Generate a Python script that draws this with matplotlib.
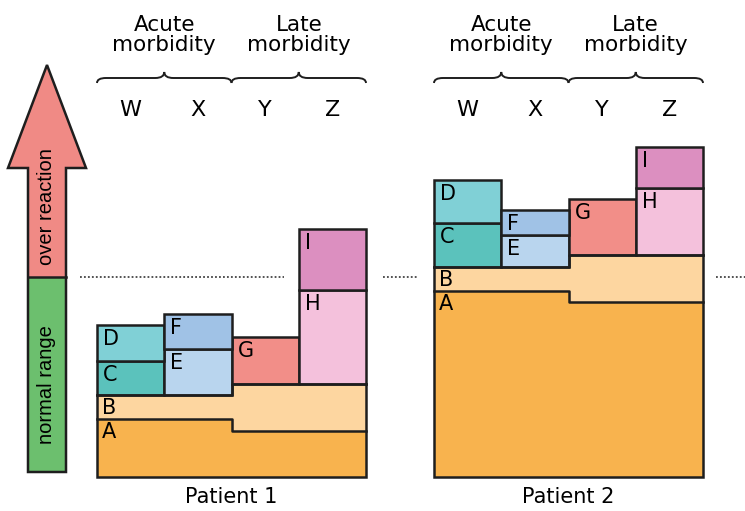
import matplotlib
matplotlib.use("Agg")
import matplotlib.pyplot as plt
from matplotlib.path import Path
from matplotlib.patches import PathPatch, Polygon, Rectangle

# ---------------- data (heights in drawing units, baseline = 0) ----------------
patients = ["Patient 1", "Patient 2"]
columns = ["W", "X", "Y", "Z"]
group_labels = ["Acute\nmorbidity", "Late\nmorbidity"]
threshold = 200

p1_A = [58, 58, 46, 46]
p1_B = [24, 24, 47, 47]
p1_lower = [34, 46, 47, 94]          # C, E, G, H
p1_upper = [36, 35, 0, 61]           # D, F, -, I

p2_A = [186, 186, 175, 175]
p2_B = [24, 24, 47, 47]
p2_lower = [44, 32, 56, 67]
p2_upper = [43, 25, 0, 41]

lower_names = ["C", "E", "G", "H"]
upper_names = ["D", "F", "", "I"]

arrow_labels = ["over reaction", "normal range"]

# ---------------- style ----------------
col_A = "#F8B34E"
col_B = "#FDD6A0"
lower_cols = ["#5BC2BC", "#B9D5EE", "#F28E88", "#F4C1DC"]
upper_cols = ["#80D0D6", "#A0C2E6", "#F28E88", "#DC8FC0"]
edge = "#1e1e1e"
lw = 1.8
FONT = "DejaVu Sans"

fig = plt.figure(figsize=(7.45, 5.11), dpi=100)
ax = fig.add_axes([0, 0, 1, 1])
ax.set_xlim(0, 745)
ax.set_ylim(-34, 477)
ax.axis("off")

colw = 67.25
origins = [97, 434]
A_list = [p1_A, p2_A]
B_list = [p1_B, p2_B]
low_list = [p1_lower, p2_lower]
up_list = [p1_upper, p2_upper]


def brace(xa, xb, y_end=394, y_flat=399, y_tip=405, r=9):
    xm = (xa + xb) / 2
    verts = [(xa, y_end), (xa, y_flat), (xa + r, y_flat),
             (xm - r, y_flat), (xm, y_flat), (xm, y_tip),
             (xm, y_flat), (xm + r, y_flat),
             (xb - r, y_flat), (xb, y_flat), (xb, y_end)]
    codes = [Path.MOVETO, Path.CURVE3, Path.CURVE3,
             Path.LINETO, Path.CURVE3, Path.CURVE3,
             Path.CURVE3, Path.CURVE3,
             Path.LINETO, Path.CURVE3, Path.CURVE3]
    ax.add_patch(PathPatch(Path(verts, codes), fill=False, edgecolor=edge, lw=1.4))


for p in range(2):
    x0 = origins[p]
    A = A_list[p]
    B = B_list[p]
    xs = [x0 + i * colw for i in range(5)]
    A_ext = A + [A[-1]]
    AB = [a + b for a, b in zip(A, B)]
    AB_ext = AB + [AB[-1]]
    ax.fill_between(xs, 0, A_ext, step="post", color=col_A, lw=0)
    ax.fill_between(xs, A_ext, AB_ext, step="post", color=col_B, lw=0)
    ax.step(xs, A_ext, where="post", color=edge, lw=lw)
    ax.step(xs, AB_ext, where="post", color=edge, lw=lw)
    ax.plot([xs[0], xs[0], xs[-1], xs[-1]], [AB[0], 0, 0, AB[-1]], color=edge, lw=lw,
            solid_joinstyle="miter")
    ax.text(xs[0] + 5, A[0] - 3, "A", ha="left", va="top", fontsize=15, family=FONT)
    ax.text(xs[0] + 5, AB[0] - 3, "B", ha="left", va="top", fontsize=15, family=FONT)

    centers = [x0 + (i + 0.5) * colw for i in range(4)]
    low = low_list[p]
    up = up_list[p]
    ax.bar(centers, low, width=colw, bottom=AB, color=lower_cols, edgecolor=edge, lw=lw)
    tops1 = [a + l for a, l in zip(AB, low)]
    for i in range(4):
        if up[i] > 0:
            ax.bar(centers[i], up[i], width=colw, bottom=tops1[i], color=upper_cols[i],
                   edgecolor=edge, lw=lw)
            ax.text(xs[i] + 6, tops1[i] + up[i] - 4, upper_names[i], ha="left", va="top",
                    fontsize=15, family=FONT)
        ax.text(xs[i] + 6, tops1[i] - 4, lower_names[i], ha="left", va="top",
                fontsize=15, family=FONT)

    # column labels, braces, group labels
    for i, c in enumerate(columns):
        ax.text(centers[i], 367, c, ha="center", va="center", fontsize=16, family=FONT)
    brace(xs[0], xs[2])
    brace(xs[2], xs[4])
    ax.text(xs[1], 442, group_labels[0], ha="center", va="center", fontsize=15.5,
            family=FONT, linespacing=0.95)
    ax.text(xs[3], 442, group_labels[1], ha="center", va="center", fontsize=15.5,
            family=FONT, linespacing=0.95)
    ax.text(xs[2], -20, patients[p], ha="center", va="center", fontsize=15, family=FONT)

# dotted threshold lines
for xa, xb in [(80, 284), (383, 417), (716, 745)]:
    ax.plot([xa, xb], [threshold, threshold], color="#444444", lw=1.3, ls=(0, (1, 1.2)))

# arrow
bl, br, bb, hb, hl, hr, tip_x, tip_y = 28, 66, 5, 309, 8, 86, 47, 412
ax.add_patch(Rectangle((bl, bb), br - bl, threshold - bb, color="#6CBF6E", lw=0))
ax.add_patch(Rectangle((bl, threshold), br - bl, hb - threshold, color="#F08A85", lw=0))
ax.add_patch(Polygon([(hl, hb), (tip_x, tip_y), (hr, hb)], closed=True, color="#F08A85", lw=0))
ax.add_patch(Polygon([(bl, bb), (br, bb), (br, hb), (hr, hb), (tip_x, tip_y), (hl, hb),
                      (bl, hb)], closed=True, fill=False, edgecolor=edge, lw=lw,
                     joinstyle="miter"))
ax.plot([bl, br], [threshold, threshold], color=edge, lw=lw)
ax.text(tip_x, 270, arrow_labels[0], rotation=90, ha="center", va="center", fontsize=14.5,
        family=["Liberation Sans", "DejaVu Sans"])
ax.text(tip_x, 92, arrow_labels[1], rotation=90, ha="center", va="center", fontsize=14.5,
        family=["Liberation Sans", "DejaVu Sans"])

fig.savefig("out.png", dpi=100, facecolor="white")
